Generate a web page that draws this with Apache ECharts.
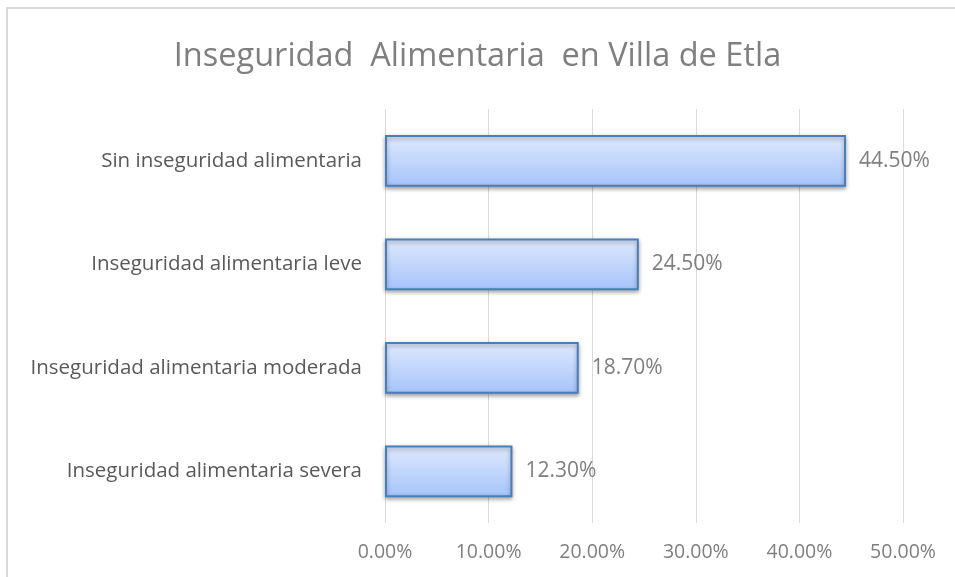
<!DOCTYPE html>
<html>
<head>
<meta charset="utf-8">
<script src="https://cdn.jsdelivr.net/npm/echarts@6/dist/echarts.min.js"></script>
<style>
  html, body { margin: 0; padding: 0; background: #fff; }
  #main { width: 955px; height: 577px; }
</style>
</head>
<body>
<div id="main"></div>
<script>
// categories, bottom to top as drawn on the category axis
const categories = [
  'Inseguridad alimentaria severa',
  'Inseguridad alimentaria moderada',
  'Inseguridad alimentaria leve',
  'Sin inseguridad alimentaria'
]
const values = [12.3, 18.7, 24.5, 44.5]
const xTicks = [0, 10, 20, 30, 40, 50]

const chart = echarts.init(document.getElementById('main'))
const font = 'Open Sans'

chart.setOption({
  backgroundColor: '#fff',
  textStyle: { fontFamily: font },
  title: {
    text: 'Inseguridad  Alimentaria  en Villa de Etla',
    left: 'center',
    top: 35,
    textStyle: { color: '#7f7f7f', fontSize: 32.5, fontWeight: 'normal', fontFamily: font }
  },
  graphic: [{
    type: 'polyline',
    shape: { points: [[7, 577], [7, 8], [955, 8]] },
    style: { stroke: '#d9d9d9', lineWidth: 2, fill: null }
  }],
  grid: { left: 385, right: 52, top: 109, bottom: 54 },
  xAxis: {
    type: 'value',
    min: xTicks[0],
    max: xTicks[xTicks.length - 1],
    interval: 10,
    axisLine: { show: false },
    axisTick: { show: false },
    splitLine: { lineStyle: { color: '#d9d9d9', width: 1 } },
    axisLabel: {
      color: '#7f7f7f',
      fontSize: 19.5,
      margin: 19,
      formatter: v => v.toFixed(2) + '%'
    }
  },
  yAxis: {
    type: 'category',
    data: categories,
    axisLine: { show: false },
    axisTick: { show: false },
    axisLabel: { color: '#595959', fontSize: 20.5, margin: 23 }
  },
  series: [{
    type: 'bar',
    data: values,
    barCategoryGap: '50%',
    itemStyle: {
      color: new echarts.graphic.LinearGradient(0, 0, 0, 1, [
        { offset: 0, color: '#dfe9fd' },
        { offset: 1, color: '#a5c4fa' }
      ]),
      borderColor: '#4a7ebb',
      borderWidth: 2,
      shadowColor: 'rgba(0,0,0,0.35)',
      shadowBlur: 4,
      shadowOffsetY: 2
    },
    label: {
      show: true,
      position: 'right',
      distance: 13,
      color: '#7f7f7f',
      fontSize: 21,
      formatter: p => p.value.toFixed(2) + '%'
    }
  }]
})
</script>
</body>
</html>
